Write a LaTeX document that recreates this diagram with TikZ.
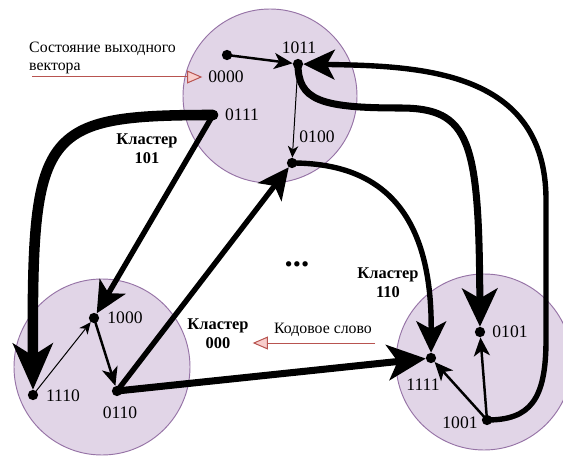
\documentclass[tikz,border=0pt]{standalone}
\usepackage{fontspec}
\setmainfont{Liberation Serif}
\usetikzlibrary{arrows.meta}

\definecolor{lila}{RGB}{225,213,231}
\definecolor{lilarand}{RGB}{150,115,166}
\definecolor{rotlinie}{RGB}{184,84,80}
\definecolor{rosa}{RGB}{248,206,204}

\begin{document}
\begin{tikzpicture}[x=0.03cm,y=-0.03cm,
	kreis/.style={fill=lila,draw=lilarand,line width=0.8pt},
	punkt/.style={circle,fill=black,inner sep=0pt,minimum size=8.8pt},
	zahl/.style={font=\fontsize{15}{18}\selectfont,inner sep=1pt},
	cluster/.style={font=\fontsize{14}{16}\selectfont\bfseries,align=center},
	duenn/.style={line width=0.85pt,-{Stealth[length=10pt,width=9pt,inset=3pt,line width=0pt]}},
	mittel/.style={line width=2.1pt,line cap=round,-{Stealth[length=16pt,width=14pt,inset=4.5pt,line width=0pt]}},
	dick/.style={line width=4.6pt,line cap=round,-{Stealth[length=27pt,width=26pt,inset=7pt,line width=0pt]}},
	sehrdick/.style={line width=6pt,line cap=round,-{Stealth[length=33pt,width=31pt,inset=9pt,line width=0pt]}},
	riesig/.style={line width=9pt,line cap=round,-{Stealth[length=40pt,width=35pt,inset=11pt,line width=0pt]}},
	rotpfeil/.style={draw=rotlinie,line width=0.85pt,-{Triangle[length=13pt,width=11pt,fill=rosa]}}
	]
	\useasboundingbox (0,0) rectangle (563,457);
	% Cluster
	\draw[kreis] (270,96) circle[radius=87];
	\draw[kreis] (102,367) circle[radius=88];
	\draw[kreis] (484,362) circle[radius=88];

	\node[punkt] (p0000) at (227,55) {};
	\node[punkt] (p1011) at (298,64) {};
	\node[punkt] (p0111) at (213,115) {};
	\node[punkt] (p0100) at (292,163) {};
	\node[punkt] (p1000) at (94,318) {};
	\node[punkt] (p1110) at (33,395) {};
	\node[punkt] (p0110) at (117,391) {};
	\node[punkt] (p1111) at (431,358) {};
	\node[punkt] (p0101) at (480,332) {};
	\node[punkt] (p1001) at (487,420) {};

	\node[zahl] (z0000) at (226,77) {0000};
	\node[zahl] (z1011) at (299,48) {1011};
	\node[zahl] (z0111) at (242,115) {0111};
	\node[zahl] (z0100) at (317,137) {0100};
	\node[zahl] (z1000) at (125,318) {1000};
	\node[zahl] (z1110) at (63,396) {1110};
	\node[zahl] (z0110) at (120,413) {0110};
	\node[zahl] (z1111) at (423,385) {1111};
	\node[zahl] (z0101) at (510,332) {0101};
	\node[zahl] (z1001) at (460,423) {1001};

	\node[cluster] (k101) at (147,149) {Кластер\\101};
	\node[cluster] (k000) at (218,334) {Кластер\\000};
	\node[cluster] (k110) at (388,283) {Кластер\\110};
	\node[font=\fontsize{28}{30}\selectfont\bfseries] (punkte) at (297,264) {...};

	\node[font=\fontsize{13.5}{16}\selectfont,align=left,anchor=west,inner sep=0pt] (zustand) at (29,58) {Состояние выходного\\вектора};
	\node[font=\fontsize{13.5}{16}\selectfont] (kwort) at (323,330) {Кодовое слово};
	\coordinate (zustS) at (32,77);
	\coordinate (kwS) at (375,343);
	\draw[rotpfeil] (zustS) -- ([xshift=-4pt]z0000.west);
	\draw[rotpfeil] (kwS) -- (kwS -| k000.east);

	% Kanten
	\draw[mittel] (p0000.center) -- (p1011);
	\draw[duenn] (p1011.center) -- (p0100);
	\draw[duenn] (p1110.center) -- (p1000);
	\draw[mittel] (p1000.center) -- (p0110);
	\draw[mittel] (p1001.center) -- (p1111);
	\draw[mittel] (p1001.center) -- (p0101);
	\draw[dick] (p0111.center) -- (p1000);
	\draw[dick] (p0110.center) -- (p0100);
	\draw[sehrdick] (p0110.center) -- (p1111);
	\draw[riesig] (p0111.center) .. controls (40,115) and (32,130) .. (p1110);
	\draw[sehrdick] (p1011.center) .. controls (298,100) and (320,108) .. (400,108) .. controls (470,108) and (479,140) .. (p0101);
	\draw[dick] (p1001.center) .. controls (530,420) and (546,400) .. (546,340) -- (546,200) .. controls (546,70) and (420,66) .. (p1011);
	\draw[dick] (p0100.center) .. controls (370,163) and (432,200) .. (p1111);
	%\draw[dick] (p0100.center) to[out=0,in=90] (p1111);
\end{tikzpicture}
\end{document}
